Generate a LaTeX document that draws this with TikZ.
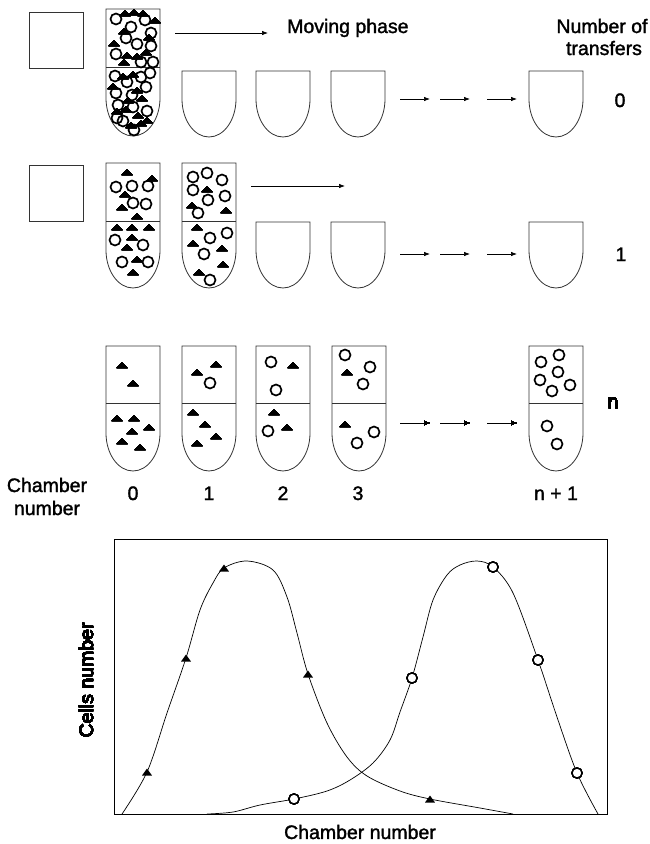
\documentclass[tikz,border=0pt]{standalone}
\usepackage{fontspec}
\setmainfont{Liberation Sans}
\newfontfamily\lblfont[FakeBold=1.6]{Liberation Sans}
\usetikzlibrary{arrows.meta}

% tube outline: left x, top y, bottom y (y grows downwards)
\newcommand{\tubepath}[3]{(#1,#2) -- (#1,#3-38) .. controls (#1,#3-17) and (#1+12.1,#3) .. (#1+27,#3) .. controls (#1+41.9,#3) and (#1+54,#3-17) .. (#1+54,#3-38) -- (#1+54,#2) -- cycle}
% particles
\newcommand{\ptri}[2]{\fill (#1-5.5,#2+3) -- (#1+5.5,#2+3) -- (#1,#2-3) -- cycle;}
\newcommand{\pcirc}[2]{\draw[line width=1.7pt] (#1,#2) circle[radius=5.5];}
% plot markers
\newcommand{\mtri}[2]{\fill (#1-5,#2+3.5) -- (#1+5,#2+3.5) -- (#1,#2-3.5) -- cycle;}
\newcommand{\mcirc}[2]{\draw[line width=1.4pt,fill=white] (#1,#2) circle[radius=5];}

\tikzset{
  tube/.style={draw=black!80, line width=0.8pt},
  flow/.style={line width=0.7pt, -{Latex[length=6pt,width=4.5pt]}},
  lbl/.style={font=\lblfont\fontsize{19.5}{23}\selectfont, inner sep=0pt, anchor=base},
  curve/.style={line width=0.7pt}
}

\begin{document}
\begin{tikzpicture}[x=1pt, y=-1pt]
\useasboundingbox (0,0) rectangle (650,844);

% ---------- transfer 0 ----------
\draw[tube] (29,12) rectangle (83,68);
\draw[tube] \tubepath{106}{9}{136};
\draw[tube] (106,67) -- (160,67);
\foreach \x in {182,256,331,529} \draw[tube] \tubepath{\x}{71}{137};
\foreach \x/\y in {116/19,131/27,145/20,151/33,126/38,137/44,151/46,116/54,141/62,153/62,
                   115/76,127/82,141/77,150/73,146/87,116/93,132/95,118/105,133/107,147/111,123/121,134/130,117/118}
  \pcirc{\x}{\y}
\foreach \x/\y in {125/13,134/12,143/13,155/20,114/43,124/31,127/55,137/56,146/52,124/62,149/37,
                   123/76,133/74,113/86,137/90,128/100,142/98,126/109,138/115,147/120,131/125,141/123,117/111}
  \ptri{\x}{\y}
\coordinate (m0a) at (175,33); \coordinate (m0b) at (268,33);
\draw[flow] (m0a) -- (m0b);
\node[lbl, anchor=base west] (moving) at (287,33) {Moving phase};
\node[lbl] (nof) at (602,33) {Number of};
\node[lbl] (ntr) at (604,55) {transfers};
\foreach \a/\b [count=\i] in {400/430,440/470,487/517} {
  \coordinate (s0a\i) at (\a,99); \coordinate (s0b\i) at (\b,99);
  \draw[flow] (s0a\i) -- (s0b\i);
}
\node[lbl] (t0) at (620,107) {0};

% ---------- transfer 1 ----------
\draw[tube] (29,165) rectangle (83,221);
\foreach \x in {106,182} {
  \draw[tube] \tubepath{\x}{163}{288};
  \draw[tube] (\x,221) -- (\x+54,221);
}
\foreach \x in {256,331,529} \draw[tube] \tubepath{\x}{222}{288};
\foreach \x/\y in {116/187,132/186,148/186,133/203,146/204,115/240,143/245,122/262,148/262,
                   193/177,207/173,222/180,193/190,208/200,225/196,198/213,210/238,227/233,204/254,210/280}
  \pcirc{\x}{\y}
\foreach \x/\y in {127/172,152/178,125/194,122/207,137/216,117/227,132/227,149/227,132/237,127/247,137/259,133/272,
                   207/189,192/205,226/210,197/227,193/243,222/248,223/264,199/272}
  \ptri{\x}{\y}
\coordinate (m1a) at (251,186); \coordinate (m1b) at (345,186);
\draw[flow] (m1a) -- (m1b);
\foreach \a/\b [count=\i] in {400/430,440/470,487/517} {
  \coordinate (s1a\i) at (\a,254); \coordinate (s1b\i) at (\b,254);
  \draw[flow] (s1a\i) -- (s1b\i);
}
\node[lbl] (t1) at (621,261) {1};

% ---------- transfer n ----------
\foreach \x in {106,182,256,332,529} {
  \draw[tube] \tubepath{\x}{346}{471};
  \draw[tube] (\x,403) -- (\x+54,403);
}
\foreach \x/\y in {210/383,271/362,276/390,268/431,345/355,370/367,363/384,374/432,357/443,
                   559/355,541/362,558/372,540/380,570/385,552/391,547/426,557/444}
  \pcirc{\x}{\y}
\foreach \x/\y in {122/365,133/383,117/418,134/418,149/427,132/431,122/441,140/447,
                   197/372,216/364,193/412,205/424,216/436,197/443,
                   293/365,274/412,287/427,347/372,345/424}
  \ptri{\x}{\y}
\foreach \a/\b [count=\i] in {400/430,440/470,487/517} {
  \coordinate (sna\i) at (\a,423); \coordinate (snb\i) at (\b,423);
  \draw[flow] (sna\i) -- (snb\i);
}
\node[lbl] (tn) at (613,408) {n};

% chamber numbers
\node[lbl] (ch1) at (47,492) {Chamber};
\node[lbl] (ch2) at (47,515) {number};
\foreach \x/\t [count=\i] in {133/0,209/1,283/2,358/3,556/n + 1}
  \node[lbl] (c\i) at (\x,500) {\t};

% ---------- distribution plot ----------
\draw[line width=0.8pt] (114,539) rectangle (607,814);
\draw[curve] plot[smooth, tension=0.55] coordinates {
  (122,814) (147,772) (167,713) (186,658) (200,610) (213,583) (224,568) (247,561)
  (273,570) (287,597) (297,633) (308,674) (327,723) (347,757) (367,776) (400,791)
  (430,799) (480,808) (513,814)};
\draw[curve] plot[smooth, tension=0.55] coordinates {
  (207,814) (233,812) (260,805) (294,799) (327,791) (350,780) (373,763) (390,740)
  (400,712) (412,678) (423,637) (433,600) (447,575) (460,565) (477,561) (493,567)
  (513,593) (538,660) (557,717) (577,773) (598,814)};
\foreach \x/\y in {147/772,186/658,224/568,308/674,430/799} \mtri{\x}{\y}
\foreach \x/\y in {294/799,412/678,493/567,538/660,577/773} \mcirc{\x}{\y}
\node[lbl, rotate=90, anchor=center] (ylab) at (86,680) {Cells number};
\node[lbl, anchor=center] (xlab) at (360,832) {Chamber number};
\end{tikzpicture}
\end{document}
